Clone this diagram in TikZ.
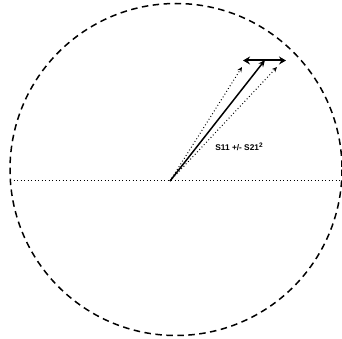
\documentclass[tikz,border=0pt]{standalone}
\usepackage{fontspec}
\setmainfont{Liberation Sans}
\usetikzlibrary{arrows.meta}
\begin{document}
\begin{tikzpicture}[x=1pt,y=-1pt,
  bigcircle/.style={dash pattern=on 6.5pt off 4.5pt, line width=1.5pt},
  axisline/.style={dash pattern=on 0.9pt off 2.6pt, line width=0.9pt},
  mainvec/.style={line width=1.5pt, -{Stealth[length=7pt,width=6pt]}},
  errvec/.style={dash pattern=on 0.9pt off 2.4pt, line width=1pt, -{Stealth[length=5pt,width=4.5pt]}},
  spread/.style={line width=2pt, {Stealth[length=7pt,width=8pt]}-{Stealth[length=7pt,width=8pt]}},
  lbl/.style={font=\fontsize{8.3}{10}\selectfont\bfseries, inner sep=0pt}]
\useasboundingbox (0,0) rectangle (342,339);
\coordinate (c) at (176,169.5);
\coordinate (o) at (170,181);
\coordinate (tip) at (265,60);
\coordinate (lt) at (242,67);
\coordinate (rt) at (277,67);
\coordinate (sl) at (243,60.5);
\coordinate (sr) at (286,60.5);
\coordinate (al) at (10,180.5);
\coordinate (ar) at (342,180.5);
\draw[bigcircle] (c) circle (166);
\draw[axisline] (al) -- (ar);
\draw[errvec] (o) -- (lt);
\draw[errvec] (o) -- (rt);
\draw[mainvec] (o) -- (tip);
\draw[spread] (sl) -- (sr);
\node[lbl] (t) at (239,147) {S11 +/- S21\raisebox{3.2pt}{\fontsize{6.5}{7}\selectfont 2}};
\end{tikzpicture}
\end{document}
